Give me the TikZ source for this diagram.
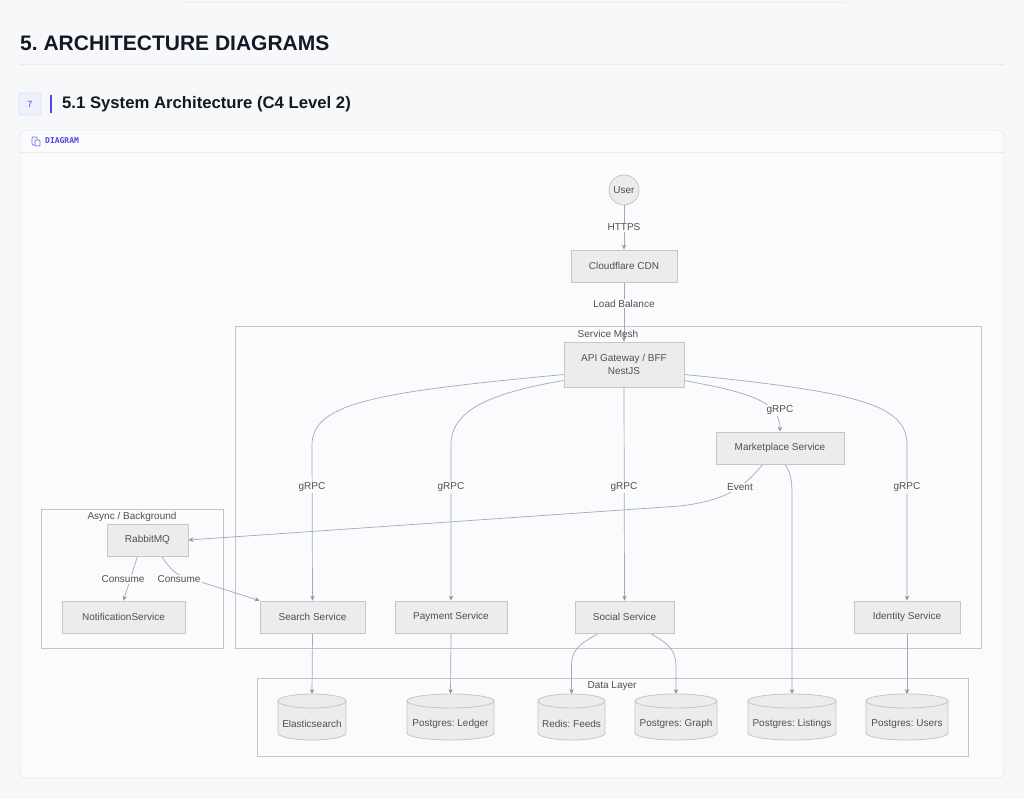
\documentclass[tikz,border=0pt]{standalone}
\usepackage{fontspec}
\setmainfont{Liberation Sans}
\newfontfamily\monof{DejaVu Sans Mono}
\usetikzlibrary{arrows.meta}
\frenchspacing
\definecolor{pagebg}{HTML}{F7F8FA}
\definecolor{cardbg}{HTML}{FAFBFC}
\definecolor{cardline}{HTML}{E8EAEE}
\definecolor{nodefill}{HTML}{ECECEC}
\definecolor{nodeline}{HTML}{C6C6C6}
\definecolor{txt}{HTML}{505050}
\definecolor{edgec}{HTML}{A4A8BA}
\definecolor{tipc}{HTML}{8E93AE}
\definecolor{clusterline}{HTML}{C4C4C4}
\definecolor{purp}{HTML}{4F46E5}
\definecolor{titlec}{HTML}{141826}
\definecolor{badgefill}{HTML}{EEF0FD}
\definecolor{badgeline}{HTML}{DCDFF7}
\pgfdeclarelayer{bg}
\pgfdeclarelayer{edges}
\pgfsetlayers{bg,edges,main}
\tikzset{
  box/.style={draw=nodeline, fill=nodefill, line width=0.8pt, text=txt,
    font=\fontsize{10}{12.5}\selectfont, inner sep=0pt, align=center},
  elabel/.style={fill=cardbg, text=txt, font=\fontsize{10}{12}\selectfont, inner sep=1.2pt},
  clabel/.style={text=txt, font=\fontsize{10}{12}\selectfont, inner sep=0pt},
  cluster/.style={draw=clusterline, fill=cardbg, line width=0.8pt},
  edge/.style={draw=edgec, line width=0.7pt, -{Stealth[length=5pt,width=4.5pt,color=tipc]}},
  dbtext/.style={text=txt, font=\fontsize{10}{12}\selectfont, inner sep=0pt}
}
\newcommand{\dbnode}[4]{%
  \fill[nodefill] (#2-#3,701) -- (#2-#3,733)
    arc[start angle=180,end angle=360,x radius=#3pt,y radius=7pt]
    -- (#2+#3,701)
    arc[start angle=0,end angle=180,x radius=#3pt,y radius=7pt] -- cycle;
  \draw[nodeline, line width=0.8pt] (#2-#3,701) -- (#2-#3,733)
    arc[start angle=180,end angle=360,x radius=#3pt,y radius=7pt]
    -- (#2+#3,701)
    arc[start angle=0,end angle=180,x radius=#3pt,y radius=7pt] -- cycle;
  \draw[nodeline, line width=0.8pt] (#2-#3,701)
    arc[start angle=180,end angle=360,x radius=#3pt,y radius=7pt];
  \node[dbtext] (#1) at (#2,724) {#4};
  \coordinate (#1-top) at (#2,694);
}
\begin{document}
\begin{tikzpicture}[x=1pt,y=-1pt]
\useasboundingbox (0,0) rectangle (1024,799);
\begin{pgfonlayer}{bg}
  \fill[pagebg] (0,0) rectangle (1024,799);
  \draw[cardline, line width=0.6pt] (185,2) -- (845,2);
  \node[anchor=west, text=titlec, font=\fontsize{21}{24}\selectfont\bfseries, inner sep=0pt] (title) at (20,43) {5. ARCHITECTURE DIAGRAMS};
  \draw[cardline, line width=0.8pt] (20,64.5) -- (1004,64.5);
  \draw[badgeline, fill=badgefill, rounded corners=3pt, line width=0.6pt] (19,93) rectangle (41,115);
  \node[text=purp, font=\fontsize{9}{10}\selectfont, inner sep=0pt] (badge) at (30,104) {7};
  \draw[purp, line width=2.6pt] (51,95) -- (51,113);
  \node[anchor=west, text=titlec, font=\fontsize{16.7}{20}\selectfont\bfseries, inner sep=0pt] (subtitle) at (62,104.5) {5.1 System Architecture (C4 Level 2)};
  % card
  \draw[cardline, fill=cardbg, rounded corners=6pt, line width=0.8pt] (20,130) rectangle (1004,778);
  \draw[cardline, line width=0.8pt] (20,152) -- (1004,152);
  \draw[purp!80, line width=0.7pt, rounded corners=0.8pt] (32,137) rectangle (37,145);
  \draw[purp!80, line width=0.7pt, fill=cardbg, rounded corners=0.8pt] (35,140) rectangle (40,146);
  \node[anchor=west, text=purp, font=\monof\fontsize{8}{9}\selectfont\bfseries, inner sep=0pt] (diaglbl) at (45,141) {DIAGRAM};
  % clusters
  \draw[cluster] (235,326) rectangle (981,648);
  \draw[cluster] (41,509) rectangle (223,648);
  \draw[cluster] (257,678) rectangle (968,756);
\end{pgfonlayer}

\node[clabel] (meshlbl) at (608,334) {Service Mesh};
\node[clabel] (asynclbl) at (132,517) {Async / Background};
\node[clabel] (datalbl) at (612,686) {Data Layer};

% nodes
\node[box, circle, minimum size=30pt] (user) at (624,190) {User};
\node[box, minimum width=106pt, minimum height=32pt] (cdn) at (624,266) {Cloudflare CDN};
\node[box, minimum width=120pt, minimum height=45pt] (gw) at (624,364.5) {API Gateway / BFF\\NestJS};
\node[box, minimum width=128pt, minimum height=32pt] (market) at (780,448) {Marketplace Service};
\node[box, minimum width=105pt, minimum height=32pt] (search) at (312.5,617) {Search Service};
\node[box, minimum width=112pt, minimum height=32pt] (pay) at (451,617) {Payment Service};
\node[box, minimum width=99pt, minimum height=32pt] (social) at (624.5,617) {Social Service};
\node[box, minimum width=106pt, minimum height=32pt] (ident) at (907,617) {Identity Service};
\node[box, minimum width=81pt, minimum height=32pt] (rabbit) at (147.5,540) {RabbitMQ};
\node[box, minimum width=123pt, minimum height=32pt] (notif) at (123.5,617) {NotificationService};

\dbnode{elastic}{312}{34}{Elasticsearch}
\dbnode{ledger}{450.5}{43.5}{Postgres: Ledger}
\dbnode{redis}{571.5}{33.5}{Redis: Feeds}
\dbnode{graph}{676}{41}{Postgres: Graph}
\dbnode{listings}{792}{44}{Postgres: Listings}
\dbnode{users}{907}{41}{Postgres: Users}

% edges
\begin{pgfonlayer}{edges}
  \draw[edge] (user.south) -- (cdn.north);
  \draw[edge] (cdn.south) -- (gw.north);
  \draw[edge] ([yshift=-10pt]gw.west) .. controls (380,392) and (312,402) .. (312,445) -- (search.north);
  \draw[edge] ([yshift=-16pt]gw.west) .. controls (485,394) and (451,412) .. (451,445) -- (pay.north);
  \draw[edge] (gw.south) -- (social.north);
  \draw[edge] ([yshift=-16pt]gw.east) .. controls (745,392) and (780,400) .. (market.north);
  \draw[edge] ([yshift=-10pt]gw.east) .. controls (860,392) and (907,405) .. (907,445) -- (ident.north);
  \draw[edge] ([xshift=-17pt]market.south) .. controls (745,485) and (730,500) .. (680,506) -- (rabbit.east);
  \draw[edge] ([xshift=5pt]market.south) .. controls (790,472) and (792,478) .. (792,495) -- (listings-top);
  \draw[edge] ([xshift=-10pt]rabbit.south) -- (notif.north);
  \draw[edge] ([xshift=14pt]rabbit.south) .. controls (168,565) and (172,572) .. (182,576) -- (search.north west);
  \draw[edge] (search.south) -- (elastic-top);
  \draw[edge] (pay.south) -- (ledger-top);
  \draw[edge] ([xshift=-26pt]social.south) .. controls (578,645) and (571,650) .. (571.5,668) -- (redis-top);
  \draw[edge] ([xshift=26pt]social.south) .. controls (670,645) and (676,650) .. (676,668) -- (graph-top);
  \draw[edge] (ident.south) -- (users-top);
\end{pgfonlayer}

% edge labels
\node[elabel] (l1) at (624,227.5) {HTTPS};
\node[elabel] (l2) at (624,303.5) {Load Balance};
\node[elabel] (l3) at (312,487.5) {gRPC};
\node[elabel] (l4) at (451,487.5) {gRPC};
\node[elabel] (l5) at (624,487.5) {gRPC};
\node[elabel] (l6) at (780,410.5) {gRPC};
\node[elabel] (l7) at (907,487.5) {gRPC};
\node[elabel] (l8) at (740,487.5) {Event};
\node[elabel] (l9) at (123,579.5) {Consume};
\node[elabel] (l10) at (179,579.5) {Consume};
\end{tikzpicture}
\end{document}
